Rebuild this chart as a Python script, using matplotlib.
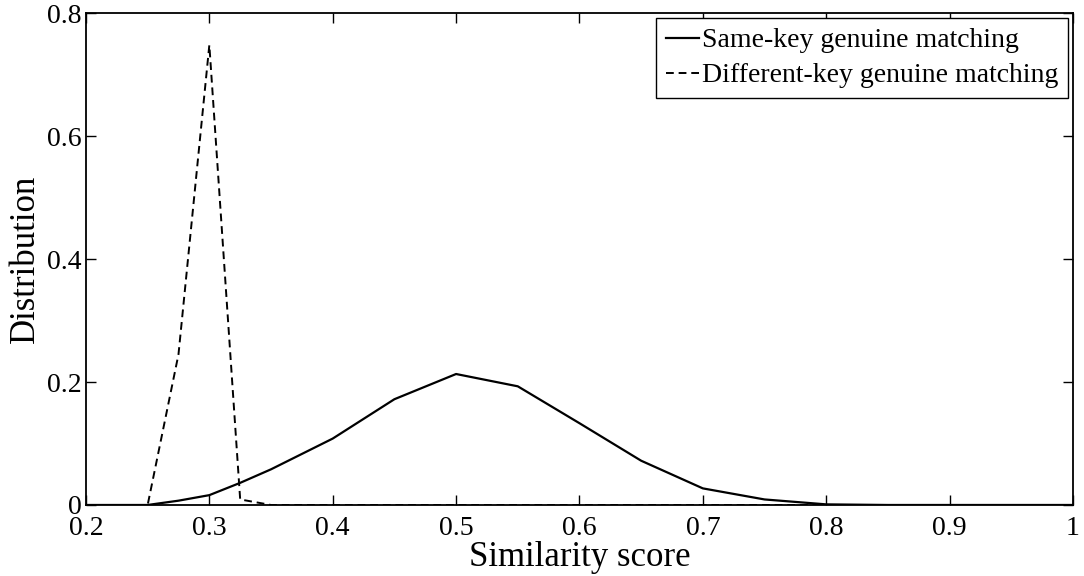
import numpy as np
import matplotlib
matplotlib.use("Agg")
import matplotlib.pyplot as plt

# Similarity score bins
scores = [0.2, 0.25, 0.275, 0.3, 0.325, 0.35, 0.4, 0.45, 0.5, 0.55, 0.6, 0.65, 0.7, 0.75, 0.8, 0.85, 0.9, 0.95, 1.0]

# Distributions
same_key = [0.0, 0.0, 0.007, 0.016, 0.036, 0.058, 0.108, 0.172, 0.213, 0.193, 0.133, 0.072, 0.027, 0.009, 0.001, 0.0, 0.0, 0.0, 0.0]
diff_key = [0.0, 0.0, 0.245, 0.748, 0.009, 0.0, 0.0, 0.0, 0.0, 0.0, 0.0, 0.0, 0.0, 0.0, 0.0, 0.0, 0.0, 0.0, 0.0]

xticks = [0.2, 0.3, 0.4, 0.5, 0.6, 0.7, 0.8, 0.9, 1.0]
xtick_labels = ["0.2", "0.3", "0.4", "0.5", "0.6", "0.7", "0.8", "0.9", "1"]
yticks = [0, 0.2, 0.4, 0.6, 0.8]
ytick_labels = ["0", "0.2", "0.4", "0.6", "0.8"]

plt.rcParams['font.family'] = ['Liberation Serif', 'DejaVu Serif']

fig = plt.figure(figsize=(10.84, 5.76), dpi=100)
ax = fig.add_axes([0.0793, 0.1233, 0.9105, 0.854])

ax.plot(scores, same_key, color='black', lw=1.6, label='Same-key genuine matching')
ax.plot(scores, diff_key, color='black', lw=1.4, dashes=(4, 2.5), label='Different-key genuine matching')

ax.set_xlim(0.2, 1.0)
ax.set_ylim(0, 0.8)
ax.set_xticks(xticks)
ax.set_xticklabels(xtick_labels)
ax.set_yticks(yticks)
ax.set_yticklabels(ytick_labels)
ax.tick_params(direction='in', top=True, right=True, length=7, width=1, labelsize=20)
ax.tick_params(axis='x', pad=8)
ax.tick_params(axis='y', pad=3)
for s in ax.spines.values():
    s.set_linewidth(1.3)

ax.set_xlabel('Similarity score', fontsize=25, labelpad=0)
ax.set_ylabel('Distribution', fontsize=25, labelpad=4)

leg = ax.legend(loc='upper right', fontsize=20, handlelength=1.2, handletextpad=0.1,
                borderpad=0.35, labelspacing=0.35, borderaxespad=0.18, fancybox=False,
                framealpha=1, edgecolor='black')
leg.get_frame().set_linewidth(1.0)

plt.savefig('out.png', dpi=100)
